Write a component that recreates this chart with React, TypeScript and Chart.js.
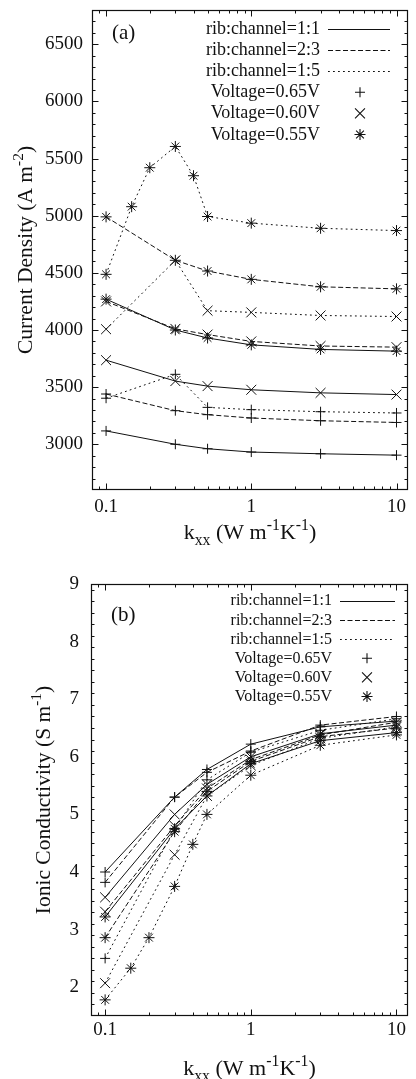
import { useEffect, useRef } from 'react';
import { Chart, registerables } from 'chart.js';

Chart.register(...registerables);

// thermal conductivity k_xx (W m^-1 K^-1) sampled in the study
const K_XX = [0.1, 0.3, 0.5, 1, 3, 10];
const K_XX_FINE = [0.1, 0.15, 0.2, 0.3, 0.4, 0.5, 1, 3, 10];

// (a) current density, A m^-2 (rib:channel ratio, cell voltage)
const J_11_065 = [3117, 3000, 2961, 2932, 2917, 2905];
const J_11_060 = [3736, 3553, 3509, 3477, 3450, 3435];
const J_11_055 = [4270, 4000, 3930, 3870, 3830, 3815];
const J_23_065 = [3440, 3294, 3259, 3230, 3206, 3191];
const J_23_060 = [4250, 4010, 3960, 3900, 3860, 3850];
const J_23_055 = [4990, 4610, 4516, 4443, 4378, 4360];
const J_15_065 = [3403, 3612, 3323, 3303, 3285, 3274];
const J_15_060 = [4007, 4610, 4169, 4154, 4127, 4118];
const J_15_055 = [4487, 5079, 5420, 5606, 5350, 4993, 4935, 4890, 4870];

// (b) ionic conductivity, S m^-1
const S_11_065 = [4.0, 5.3, 5.78, 6.22, 6.52, 6.62];
const S_11_060 = [3.56, 5.0, 5.52, 6.0, 6.4, 6.55];
const S_11_055 = [3.22, 4.75, 5.32, 5.88, 6.28, 6.42];
const S_23_065 = [3.82, 5.3, 5.73, 6.1, 6.55, 6.7];
const S_23_060 = [3.31, 4.8, 5.45, 5.95, 6.38, 6.6];
const S_23_055 = [2.86, 4.7, 5.4, 5.92, 6.35, 6.5];
const S_15_065 = [2.5, 4.75, 5.6, 6.08, 6.46, 6.66];
const S_15_060 = [2.07, 4.3, 5.32, 5.85, 6.32, 6.52];
const S_15_055 = [1.78, 2.33, 2.86, 3.75, 4.48, 5.0, 5.68, 6.2, 6.38];

const X_MIN = 0.08;
const X_MAX = 12;
const X_TICKS = [0.1, 1, 10];
const X_TICK_LABELS = ['0.1', '1', '10'];
const J_TICKS = [3000, 3500, 4000, 4500, 5000, 5500, 6000, 6500];
const S_TICKS = [2, 3, 4, 5, 6, 7, 8, 9];

const RATIO_LABELS = ['rib:channel=1:1', 'rib:channel=2:3', 'rib:channel=1:5'];
const VOLTAGE_LABELS = ['Voltage=0.65V', 'Voltage=0.60V', 'Voltage=0.55V'];

const INK = '#111';
const SERIF = "'Liberation Serif', 'Times New Roman', serif";
const DASHES = [[], [5, 2.5], [1.8, 3.2]];
const MARKERS = ['cross', 'crossRot', 'star'];
const MARKER_R = [5, 7, 5.5];

type Series = { ratio: number; volt: number; x: number[]; y: number[] };
type Run = { text: string; shift?: 'sup' | 'sub' };

const SERIES_J: Series[] = [
  { ratio: 0, volt: 0, x: K_XX, y: J_11_065 },
  { ratio: 0, volt: 1, x: K_XX, y: J_11_060 },
  { ratio: 0, volt: 2, x: K_XX, y: J_11_055 },
  { ratio: 1, volt: 0, x: K_XX, y: J_23_065 },
  { ratio: 1, volt: 1, x: K_XX, y: J_23_060 },
  { ratio: 1, volt: 2, x: K_XX, y: J_23_055 },
  { ratio: 2, volt: 0, x: K_XX, y: J_15_065 },
  { ratio: 2, volt: 1, x: K_XX, y: J_15_060 },
  { ratio: 2, volt: 2, x: K_XX_FINE, y: J_15_055 },
];

const SERIES_S: Series[] = [
  { ratio: 0, volt: 0, x: K_XX, y: S_11_065 },
  { ratio: 0, volt: 1, x: K_XX, y: S_11_060 },
  { ratio: 0, volt: 2, x: K_XX, y: S_11_055 },
  { ratio: 1, volt: 0, x: K_XX, y: S_23_065 },
  { ratio: 1, volt: 1, x: K_XX, y: S_23_060 },
  { ratio: 1, volt: 2, x: K_XX, y: S_23_055 },
  { ratio: 2, volt: 0, x: K_XX, y: S_15_065 },
  { ratio: 2, volt: 1, x: K_XX, y: S_15_060 },
  { ratio: 2, volt: 2, x: K_XX_FINE, y: S_15_055 },
];

const X_TITLE: Run[] = [
  { text: 'k' },
  { text: 'xx', shift: 'sub' },
  { text: ' (W m' },
  { text: '-1', shift: 'sup' },
  { text: 'K' },
  { text: '-1', shift: 'sup' },
  { text: ')' },
];

type PanelCfg = {
  id: string;
  top: number;
  height: number;
  padTop: number;
  padBottom: number;
  xAxisH: number;
  yAxisW: number;
  yTickPad: number;
  xTickPad: number;
  yMin: number;
  yMax: number;
  yTicks: number[];
  yMajor: number;
  yMinor: number;
  series: Series[];
  yTitle: Run[];
  yTitleX: number;
  xTitleY: number;
  tag: string;
  tagX: number;
  tagY: number;
  legend: { textRight: number; x0: number; x1: number; mx: number; y0: number; step: number; font: number };
};

const PANEL_A: PanelCfg = {
  id: 'a',
  top: 0,
  height: 556,
  padTop: 10,
  padBottom: 16,
  xAxisH: 50,
  yAxisW: 92,
  yTickPad: 9,
  xTickPad: 6,
  yMin: 2600,
  yMax: 6800,
  yTicks: J_TICKS,
  yMajor: 500,
  yMinor: 100,
  series: SERIES_J,
  yTitle: [{ text: 'Current Density (A m' }, { text: '-2', shift: 'sup' }, { text: ')' }],
  yTitleX: 32,
  xTitleY: 539,
  tag: '(a)',
  tagX: 112,
  tagY: 39,
  legend: { textRight: 320, x0: 328, x1: 390, mx: 360, y0: 29, step: 21.1, font: 18 },
};

const PANEL_B: PanelCfg = {
  id: 'b',
  top: 540,
  height: 539,
  padTop: 44,
  padBottom: 0,
  xAxisH: 63,
  yAxisW: 91,
  yTickPad: 12,
  xTickPad: 3,
  yMin: 1.5,
  yMax: 9,
  yTicks: S_TICKS,
  yMajor: 1,
  yMinor: 0.2,
  series: SERIES_S,
  yTitle: [{ text: 'Ionic Conductivity (S m' }, { text: '-1', shift: 'sup' }, { text: ')' }],
  yTitleX: 50,
  xTitleY: 535,
  tag: '(b)',
  tagX: 111,
  tagY: 81,
  legend: { textRight: 332, x0: 340, x1: 395, mx: 367, y0: 61, step: 19.1, font: 16 },
};

function font(size: number) {
  return `${size}px ${SERIF}`;
}

// centred text with raised / lowered runs, baseline at y
function drawRuns(ctx: CanvasRenderingContext2D, runs: Run[], x: number, y: number, size: number) {
  const widths = runs.map((r) => {
    ctx.font = font(r.shift ? size * 0.72 : size);
    return ctx.measureText(r.text).width;
  });
  let cx = x - widths.reduce((a, b) => a + b, 0) / 2;
  ctx.textAlign = 'left';
  ctx.textBaseline = 'alphabetic';
  runs.forEach((r, i) => {
    ctx.font = font(r.shift ? size * 0.72 : size);
    const dy = r.shift === 'sup' ? -0.42 * size : r.shift === 'sub' ? 0.28 * size : 0;
    ctx.fillText(r.text, cx, y + dy);
    cx += widths[i];
  });
}

function drawMarker(ctx: CanvasRenderingContext2D, style: string, x: number, y: number, r: number) {
  ctx.beginPath();
  if (style === 'cross' || style === 'star') {
    ctx.moveTo(x, y - r);
    ctx.lineTo(x, y + r);
    ctx.moveTo(x - r, y);
    ctx.lineTo(x + r, y);
  }
  if (style === 'crossRot' || style === 'star') {
    const d = r * Math.SQRT1_2;
    ctx.moveTo(x - d, y - d);
    ctx.lineTo(x + d, y + d);
    ctx.moveTo(x - d, y + d);
    ctx.lineTo(x + d, y - d);
  }
  ctx.stroke();
}

function framePlugin(cfg: PanelCfg) {
  return {
    id: 'frame-' + cfg.id,
    afterDraw(chart: any) {
      const ctx: CanvasRenderingContext2D = chart.ctx;
      const { left, right, top, bottom } = chart.chartArea;
      const xs = chart.scales.x;
      const ys = chart.scales.y;
      const L = left + 0.5;
      const R = right - 0.5;
      const T = top + 0.5;
      const B = bottom - 0.5;
      ctx.save();
      ctx.strokeStyle = INK;
      ctx.fillStyle = INK;
      ctx.setLineDash([]);

      // border
      ctx.lineWidth = 1.2;
      ctx.strokeRect(L, T, R - L, B - T);

      // inward tick marks on all four sides
      ctx.lineWidth = 1;
      ctx.beginPath();
      const n = Math.round((cfg.yMax - cfg.yMin) / cfg.yMinor);
      for (let i = 0; i <= n; i++) {
        const v = cfg.yMin + i * cfg.yMinor;
        const q = v / cfg.yMajor;
        const major = Math.abs(q - Math.round(q)) < 1e-6;
        const p = Math.round(ys.getPixelForValue(v)) + 0.5;
        if (p <= T + 1 || p >= B - 1) continue;
        const len = major ? 6 : 3;
        ctx.moveTo(L, p);
        ctx.lineTo(L + len, p);
        ctx.moveTo(R, p);
        ctx.lineTo(R - len, p);
      }
      for (let e = -2; e <= 1; e++) {
        for (let k = 1; k <= 9; k++) {
          const v = k * Math.pow(10, e);
          if (v < X_MIN * 0.999 || v > X_MAX * 1.001) continue;
          const p = Math.round(xs.getPixelForValue(v)) + 0.5;
          if (p <= L + 1 || p >= R - 1) continue;
          const len = k === 1 ? 6 : 3;
          ctx.moveTo(p, B);
          ctx.lineTo(p, B - len);
          ctx.moveTo(p, T);
          ctx.lineTo(p, T + len);
        }
      }
      ctx.stroke();

      // axis titles
      drawRuns(ctx, X_TITLE, (left + right) / 2, cfg.xTitleY, 22);
      ctx.save();
      ctx.translate(cfg.yTitleX, (top + bottom) / 2);
      ctx.rotate(-Math.PI / 2);
      drawRuns(ctx, cfg.yTitle, 0, 0, 21.5);
      ctx.restore();

      // panel tag
      ctx.font = font(21);
      ctx.textAlign = 'left';
      ctx.textBaseline = 'alphabetic';
      ctx.fillText(cfg.tag, cfg.tagX, cfg.tagY);

      // key: line styles, then marker styles
      const lg = cfg.legend;
      ctx.font = font(lg.font);
      ctx.textAlign = 'right';
      const rows = [...RATIO_LABELS, ...VOLTAGE_LABELS];
      rows.forEach((label, i) => {
        const cy = lg.y0 + i * lg.step;
        ctx.fillText(label, lg.textRight, cy + lg.font * 0.28);
        ctx.lineWidth = 1.1;
        if (i < 3) {
          ctx.setLineDash(DASHES[i]);
          ctx.beginPath();
          ctx.moveTo(lg.x0, Math.round(cy) + 0.5);
          ctx.lineTo(lg.x1, Math.round(cy) + 0.5);
          ctx.stroke();
          ctx.setLineDash([]);
        } else {
          const v = i - 3;
          drawMarker(ctx, MARKERS[v], lg.mx, cy, MARKER_R[v]);
        }
      });
      ctx.restore();
    },
  };
}

function makeChart(canvas: HTMLCanvasElement, cfg: PanelCfg) {
  const zeroPad = (s: any) => {
    s.paddingLeft = 0;
    s.paddingRight = 0;
    s.paddingTop = 0;
    s.paddingBottom = 0;
  };
  return new Chart(canvas, {
    type: 'line',
    data: {
      datasets: cfg.series.map((s) => ({
        data: s.x.map((x, i) => ({ x, y: s.y[i] })),
        borderColor: INK,
        borderWidth: 1,
        borderDash: DASHES[s.ratio],
        pointStyle: MARKERS[s.volt] as any,
        pointRadius: MARKER_R[s.volt],
        pointHoverRadius: MARKER_R[s.volt],
        pointBorderColor: INK,
        pointBackgroundColor: INK,
        pointBorderWidth: 1,
        tension: 0,
        fill: false,
      })),
    },
    options: {
      responsive: false,
      animation: false,
      devicePixelRatio: 1,
      events: [],
      layout: { padding: { left: 0, right: 0, top: cfg.padTop, bottom: cfg.padBottom } },
      plugins: { legend: { display: false }, tooltip: { enabled: false } },
      scales: {
        x: {
          type: 'logarithmic',
          position: 'bottom',
          min: X_MIN,
          max: X_MAX,
          grid: { display: false, drawTicks: false },
          border: { display: false },
          ticks: {
            autoSkip: false,
            maxRotation: 0,
            minRotation: 0,
            padding: cfg.xTickPad,
            color: INK,
            font: { family: SERIF, size: 19 },
            callback: (_v: any, i: number) => X_TICK_LABELS[i] ?? '',
          },
          afterBuildTicks: (s: any) => {
            s.ticks = X_TICKS.map((value) => ({ value }));
          },
          afterFit: (s: any) => {
            s.height = cfg.xAxisH;
            zeroPad(s);
          },
        },
        y: {
          type: 'linear',
          position: 'left',
          min: cfg.yMin,
          max: cfg.yMax,
          grid: { display: false, drawTicks: false },
          border: { display: false },
          ticks: {
            autoSkip: false,
            padding: cfg.yTickPad,
            color: INK,
            font: { family: SERIF, size: 19 },
            callback: (v: any) => String(v),
          },
          afterBuildTicks: (s: any) => {
            s.ticks = cfg.yTicks.map((value) => ({ value }));
          },
          afterFit: (s: any) => {
            s.width = cfg.yAxisW;
            zeroPad(s);
          },
        },
      },
    } as any,
    plugins: [framePlugin(cfg)],
  });
}

function Panel({ cfg }: { cfg: PanelCfg }) {
  const ref = useRef<HTMLCanvasElement>(null);
  useEffect(() => {
    const chart = makeChart(ref.current as HTMLCanvasElement, cfg);
    return () => chart.destroy();
  }, [cfg]);
  return (
    <canvas
      ref={ref}
      width={416}
      height={cfg.height}
      style={{
        display: 'block',
        position: 'absolute',
        left: 0,
        top: cfg.top,
        width: 416,
        height: cfg.height,
      }}
    />
  );
}

export default function App() {
  return (
    <div
      style={{
        position: 'absolute',
        left: 0,
        top: 0,
        width: 416,
        height: 1079,
        overflow: 'hidden',
        background: '#fff',
      }}
    >
      <Panel cfg={PANEL_A} />
      <Panel cfg={PANEL_B} />
    </div>
  );
}
